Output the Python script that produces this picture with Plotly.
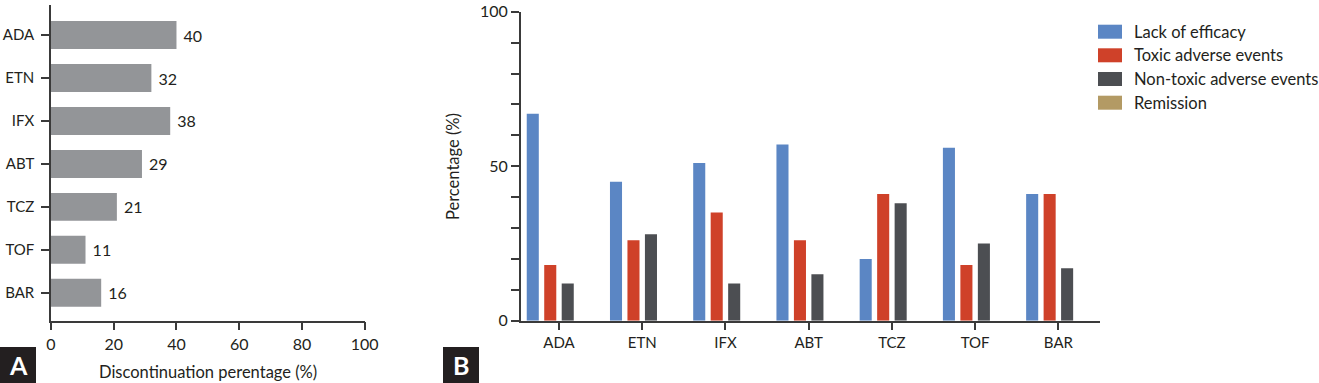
import plotly.graph_objects as go

W, H = 1319, 383

# ---- data ----
drugs = ["ADA", "ETN", "IFX", "ABT", "TCZ", "TOF", "BAR"]
discontinuation = [40, 32, 38, 29, 21, 11, 16]

series_names = ["Lack of efficacy", "Toxic adverse events", "Non-toxic adverse events", "Remission"]
lack_of_efficacy = [67, 45, 51, 57, 20, 56, 41]
toxic_ae = [18, 26, 35, 26, 41, 18, 41]
nontoxic_ae = [12, 28, 12, 15, 38, 25, 17]
remission = [0, 0, 0, 0, 0, 0, 0]

x_ticks_a = [0, 20, 40, 60, 80, 100]
y_ticks_b = [0, 50, 100]

# ---- styles ----
FONT = "Lato"
FS = 16.5
FS_NUM = 16
FS_CAT = 15
TXT = "#231f20"
AXC = "#3a3a3a"
colors = ["#5b86c4", "#cf4129", "#4c4e52", "#b39a64"]
gray_bar = "#939598"


def px(x):
    return x / W


def py(y):
    return 1 - y / H


fig = go.Figure()

# Panel A
fig.add_trace(go.Bar(
    x=discontinuation, y=drugs, orientation="h",
    marker=dict(color=gray_bar, line=dict(width=0)),
    width=0.65,
    text=[" " + str(v) for v in discontinuation], textposition="outside",
    textfont=dict(family=FONT, size=FS_NUM, color=TXT),
    cliponaxis=False, xaxis="x", yaxis="y", showlegend=False,
))

# Panel B
for name, vals, c in zip(series_names, [lack_of_efficacy, toxic_ae, nontoxic_ae, remission], colors):
    fig.add_trace(go.Bar(
        x=drugs, y=vals, name=name,
        marker=dict(color=c, line=dict(width=0)),
        xaxis="x2", yaxis="y2", showlegend=False,
    ))

axis_common = dict(showline=True, linecolor=AXC, linewidth=1.5, showgrid=False,
                   zeroline=False, ticks="outside", ticklen=8, tickwidth=1.5,
                   tickcolor=AXC, automargin=False)
num_font = dict(family=FONT, size=FS_NUM, color=TXT)
cat_font = dict(family=FONT, size=FS_CAT, color=TXT)

fig.update_layout(
    width=W, height=H, margin=dict(l=0, r=0, t=0, b=0, autoexpand=False),
    paper_bgcolor="white", plot_bgcolor="white",
    barmode="group", bargap=0.16, bargroupgap=0.31,
    xaxis=dict(domain=[px(51), px(364.7)], range=[0, 100], tickvals=x_ticks_a,
               anchor="y", tickfont=num_font, **axis_common),
    yaxis=dict(domain=[py(320.7), py(5)], type="category", categoryarray=drugs,
               range=[6.65, -0.70], anchor="x", ticklabelstandoff=4,
               tickfont=cat_font, **axis_common),
    xaxis2=dict(domain=[px(520.7), px(1100)], type="category", categoryarray=drugs,
                range=[-0.46, 6.5], anchor="y2", tickfont=cat_font, **axis_common),
    yaxis2=dict(domain=[py(320.7), py(11.7)], range=[0, 100], tickvals=list(range(0, 101, 10)),
                ticktext=[str(v) if v in y_ticks_b else "" for v in range(0, 101, 10)],
                anchor="x2", tickfont=num_font, **axis_common),
)

annotations = []
shapes = []

# axis titles
annotations.append(dict(x=px(208), y=py(372), xref="paper", yref="paper",
                        xanchor="center", yanchor="middle",
                        text="Discontinuation perentage (%)", showarrow=False,
                        font=dict(family=FONT, size=FS, color=TXT)))
annotations.append(dict(x=px(453), y=py(167), xref="paper", yref="paper",
                        xanchor="center", yanchor="middle",
                        text="Percentage (%)", showarrow=False, textangle=-90,
                        font=dict(family=FONT, size=FS, color=TXT)))

# panel labels
for lab, x0 in [("A", 0), ("B", 443)]:
    shapes.append(dict(type="rect", xref="paper", yref="paper",
                       x0=px(x0), x1=px(x0 + 36), y0=py(383), y1=py(347),
                       fillcolor="#231f20", line=dict(width=0)))
    annotations.append(dict(x=px(x0 + 18), y=py(365), xref="paper", yref="paper",
                            xanchor="center", yanchor="middle",
                            text="<b>" + lab + "</b>", showarrow=False,
                            font=dict(family=FONT, size=25, color="white")))

# legend (manual)
rows = [31.7, 55.3, 79.0, 102.7]
for name, c, yc in zip(series_names, colors, rows):
    shapes.append(dict(type="rect", xref="paper", yref="paper",
                       x0=px(1098), x1=px(1122), y0=py(yc + 7), y1=py(yc - 7),
                       fillcolor=c, line=dict(width=0)))
    annotations.append(dict(x=px(1132), y=py(yc), xref="paper", yref="paper",
                            xanchor="left", yanchor="middle", text=name, showarrow=False,
                            font=dict(family=FONT, size=FS, color=TXT)))

fig.update_layout(annotations=annotations, shapes=shapes)

fig.write_html(
    "out.html",
    config={"displayModeBar": False},
    post_script="document.body.style.margin='0';document.body.style.padding='0';",
)
